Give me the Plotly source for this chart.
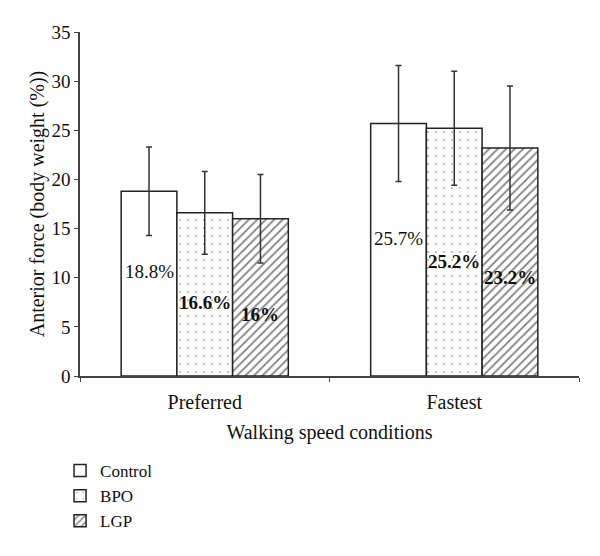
import plotly.graph_objects as go

categories = ["Preferred", "Fastest"]
groups = ["Control", "BPO", "LGP"]
values = {
    "Control": [18.8, 25.7],
    "BPO": [16.6, 25.2],
    "LGP": [16.0, 23.2],
}
errors = {
    "Control": [4.5, 5.9],
    "BPO": [4.2, 5.8],
    "LGP": [4.5, 6.3],
}
labels = {
    "Control": ["18.8%", "25.7%"],
    "BPO": ["16.6%", "25.2%"],
    "LGP": ["16%", "23.2%"],
}
label_y = {
    "Control": [10.6, 14.0],
    "BPO": [7.5, 11.7],
    "LGP": [6.3, 10.0],
}

FONT = "Liberation Serif"
patterns = {
    "Control": dict(shape=""),
    "BPO": dict(shape=".", size=8, solidity=0.06, fgcolor="#666666", bgcolor="white"),
    "LGP": dict(shape="/", size=6, solidity=0.3, fgcolor="black", bgcolor="white"),
}

fig = go.Figure()
for g in groups:
    fig.add_trace(go.Bar(
        name=g, x=categories, y=values[g],
        marker=dict(color="white", line=dict(color="#222222", width=1.5), pattern=patterns[g]),
        error_y=dict(type="data", array=errors[g], visible=True, color="#333333", thickness=1.5, width=3),
    ))

bargap = 0.33
bw = (1 - bargap) / 3
for i, g in enumerate(groups):
    for j, c in enumerate(categories):
        fig.add_annotation(
            x=j + (i - 1) * bw, y=label_y[g][j], xref="x", yref="y",
            text=("<b>%s</b>" % labels[g][j]) if g != "Control" else labels[g][j],
            showarrow=False, font=dict(family=FONT, size=19, color="#111111"),
        )

fig.update_layout(
    width=600, height=556,
    margin=dict(l=72, r=29, t=24, b=188, autoexpand=False),
    paper_bgcolor="white", plot_bgcolor="white",
    barmode="group", bargap=bargap, bargroupgap=0,
    font=dict(family=FONT, size=19, color="#111111"),
    showlegend=True,
    legend=dict(x=-0.04, y=-0.224, xanchor="left", yanchor="top",
                font=dict(family=FONT, size=17), tracegroupgap=0, itemwidth=30),
)
fig.update_xaxes(
    automargin=False,
    showline=True, linecolor="#444444", linewidth=1.5,
    ticks="outside", tickson="boundaries", ticklen=4, tickcolor="#444444",
    ticklabelstandoff=7,
    title=dict(text="Walking speed conditions", font=dict(family=FONT, size=20), standoff=13),
    tickfont=dict(family=FONT, size=20),
)
fig.update_yaxes(
    automargin=False,
    range=[0, 35], dtick=5, showgrid=False, zeroline=False,
    showline=True, linecolor="#444444", linewidth=1.5,
    ticks="outside", ticklen=4, tickcolor="#444444",
    title=dict(text="Anterior force (body weight (%))", font=dict(family=FONT, size=20), standoff=1),
    tickfont=dict(family=FONT, size=19),
)

fig.write_html("out.html")
